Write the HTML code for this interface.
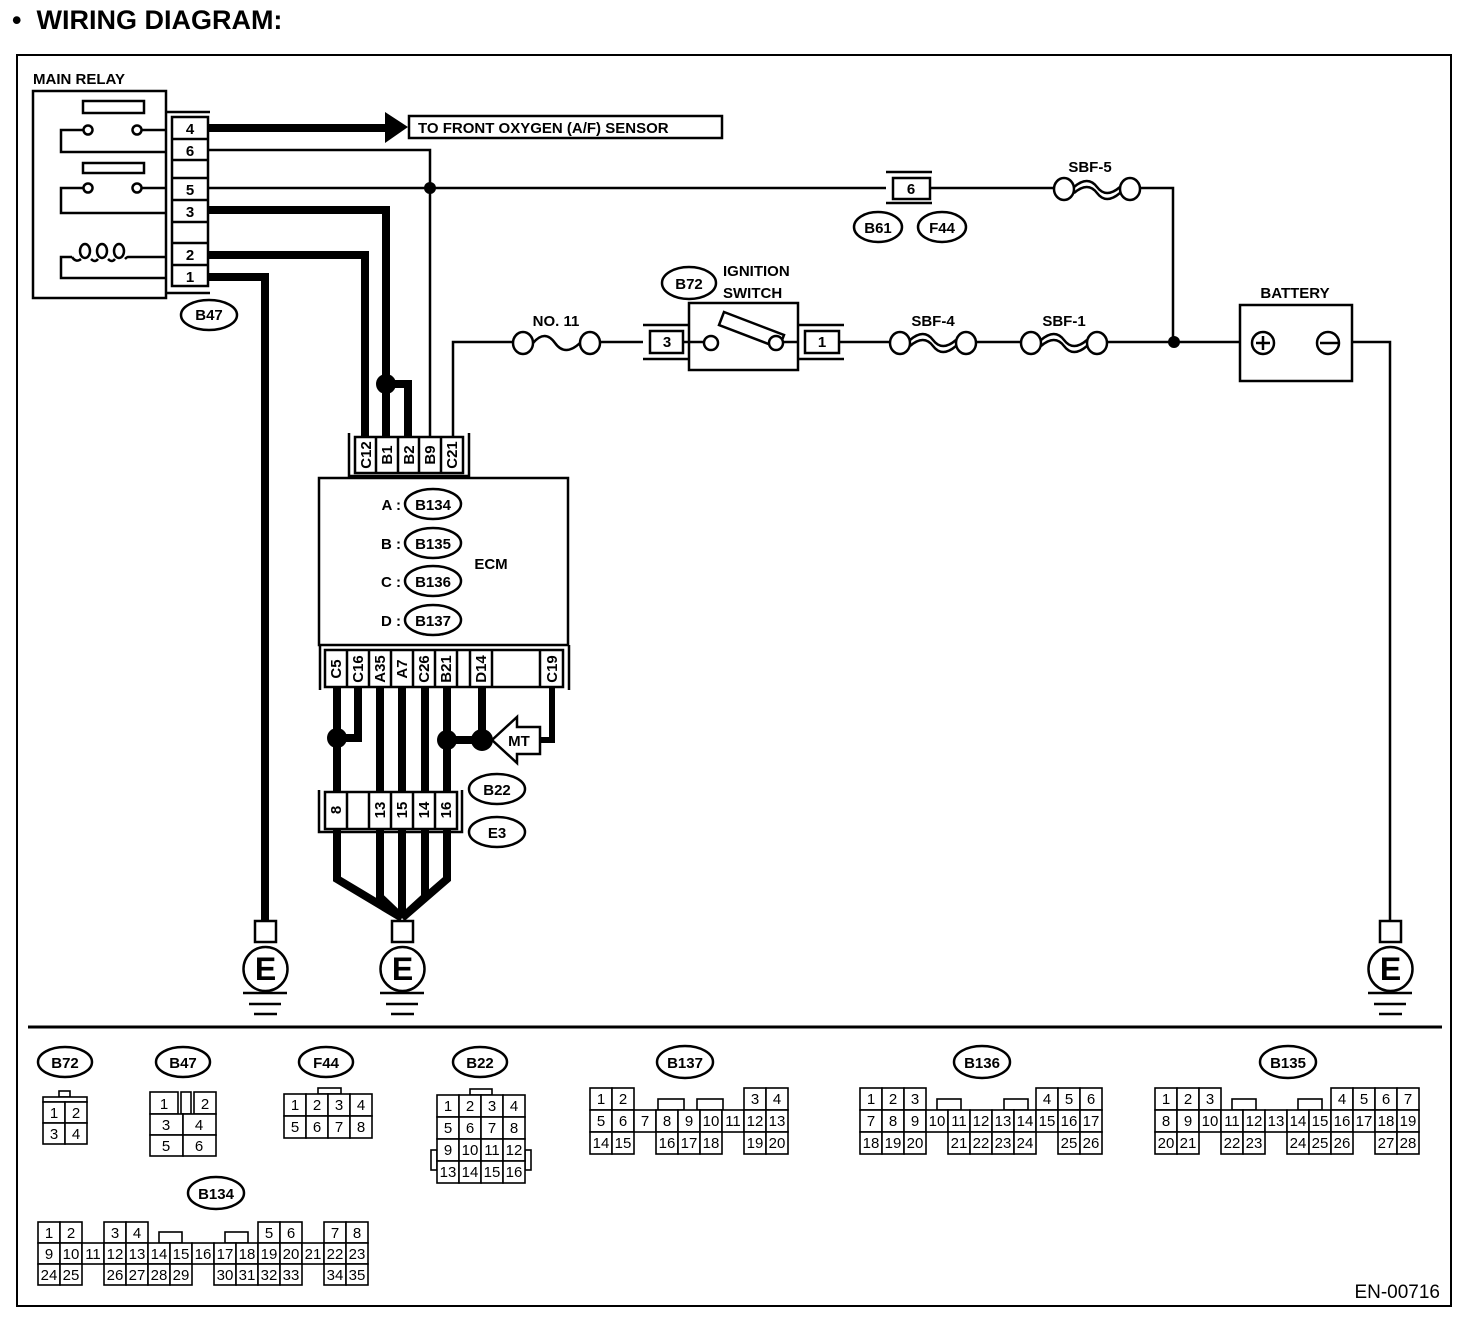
<!DOCTYPE html>
<html><head><meta charset="utf-8"><style>
html,body{margin:0;padding:0;background:#fff}
svg{display:block}
text{font-family:"Liberation Sans",sans-serif}
.b{font-weight:bold;font-size:15px}
.c rect{fill:#fff;stroke:#000;stroke-width:1.6}
.c text{font-size:15px;text-anchor:middle}
.t{fill:none;stroke:#000;stroke-width:2.5}
.k{fill:none;stroke:#000;stroke-width:8}
.bx{fill:#fff;stroke:#000;stroke-width:2.5}
.ov{fill:#fff;stroke:#000;stroke-width:2.5}
.m{text-anchor:middle}
</style></head><body>
<svg width="1472" height="1320" viewBox="0 0 1472 1320" xmlns="http://www.w3.org/2000/svg">
<text x="12" y="29" style="font-weight:bold;font-size:27px" xml:space="preserve">•  WIRING DIAGRAM:</text>
<rect x="17" y="55" width="1434" height="1251" fill="none" stroke="#000" stroke-width="2"/>

<!-- MAIN RELAY -->
<text x="33" y="84" class="b">MAIN RELAY</text>
<rect x="33" y="91" width="133" height="207" class="bx"/>
<rect x="83" y="101" width="61" height="12" class="bx"/>
<rect x="83" y="163" width="61" height="10" class="bx"/>
<path d="M166 130H141 M84 130H61V152H166" class="t"/>
<path d="M166 188H141 M84 188H61V213H166" class="t"/>
<circle cx="88" cy="130" r="4.5" class="bx"/><circle cx="137" cy="130" r="4.5" class="bx"/>
<circle cx="88" cy="188" r="4.5" class="bx"/><circle cx="137" cy="188" r="4.5" class="bx"/>
<path d="M166 257H128 M72 257H61V278H166" class="t"/>
<path d="M72 257q4 6 9 2 M91 259q4 4 7 0 M108 259q4 4 7 0 M125 259q2 -2 3 -2" class="t"/>
<ellipse cx="85" cy="251" rx="5" ry="7" class="t"/>
<ellipse cx="102" cy="251" rx="5" ry="7" class="t"/>
<ellipse cx="119" cy="251" rx="5" ry="7" class="t"/>
<path d="M166 112H210 M166 293H210" class="t"/>
<rect x="172" y="117" width="36" height="169" class="bx"/>
<path d="M172 139H208M172 160H208M172 178H208M172 200H208M172 222H208M172 243H208M172 265H208" class="t"/>
<text x="190" y="134" class="b m">4</text><text x="190" y="156" class="b m">6</text>
<text x="190" y="195" class="b m">5</text><text x="190" y="217" class="b m">3</text>
<text x="190" y="260" class="b m">2</text><text x="190" y="282" class="b m">1</text>
<ellipse cx="209" cy="315" rx="28" ry="15" class="ov"/><text x="209" y="320" class="b m">B47</text>

<!-- wires from relay -->
<path d="M208 128H388" class="k"/>
<polygon points="385,112 408,127 385,143"/>
<rect x="409" y="116" width="313" height="22" class="bx"/>
<text x="418" y="133" class="b">TO FRONT OXYGEN (A/F) SENSOR</text>
<path d="M208 150H430V437" class="t"/>
<path d="M208 188H886" class="t"/>
<circle cx="430" cy="188" r="6"/>
<path d="M208 210H386V437" class="k"/>
<path d="M208 255H365V437" class="k"/>
<path d="M208 277H265V922" class="k"/>
<circle cx="386" cy="384" r="10"/>
<path d="M386 384H408V437" class="k"/>

<!-- ECM top connector -->
<path d="M349 433V476H469V433" class="t"/>
<rect x="355" y="437" width="108" height="36" class="bx"/>
<path d="M376 437V473M398 437V473M419 437V473M441 437V473" class="t"/>
<g class="b m">
<text transform="translate(371,455) rotate(-90)" text-anchor="middle">C12</text>
<text transform="translate(392,455) rotate(-90)" text-anchor="middle">B1</text>
<text transform="translate(414,455) rotate(-90)" text-anchor="middle">B2</text>
<text transform="translate(435,455) rotate(-90)" text-anchor="middle">B9</text>
<text transform="translate(457,455) rotate(-90)" text-anchor="middle">C21</text>
</g>
<path d="M453 437V342H513" class="t"/>

<!-- ECM -->
<rect x="319" y="478" width="249" height="167" class="bx"/>
<text x="401" y="510" class="b" text-anchor="end">A :</text>
<text x="401" y="549" class="b" text-anchor="end">B :</text>
<text x="401" y="587" class="b" text-anchor="end">C :</text>
<text x="401" y="626" class="b" text-anchor="end">D :</text>
<ellipse cx="433" cy="504" rx="28" ry="15" class="ov"/><text x="433" y="510" class="b m">B134</text>
<ellipse cx="433" cy="543" rx="28" ry="15" class="ov"/><text x="433" y="549" class="b m">B135</text>
<ellipse cx="433" cy="581" rx="28" ry="15" class="ov"/><text x="433" y="587" class="b m">B136</text>
<ellipse cx="433" cy="620" rx="28" ry="15" class="ov"/><text x="433" y="626" class="b m">B137</text>
<text x="491" y="569" class="b m">ECM</text>

<!-- ECM bottom connector -->
<path d="M320 645V690 M569 645V690" class="t"/>
<rect x="325" y="650" width="238" height="37" class="bx"/>
<path d="M347 650V687M369 650V687M391 650V687M413 650V687M435 650V687M457 650V687M470 650V687M492 650V687M540 650V687" class="t"/>
<g class="b">
<text transform="translate(341,669) rotate(-90)" text-anchor="middle">C5</text>
<text transform="translate(363,669) rotate(-90)" text-anchor="middle">C16</text>
<text transform="translate(385,669) rotate(-90)" text-anchor="middle">A35</text>
<text transform="translate(407,669) rotate(-90)" text-anchor="middle">A7</text>
<text transform="translate(429,669) rotate(-90)" text-anchor="middle">C26</text>
<text transform="translate(451,669) rotate(-90)" text-anchor="middle">B21</text>
<text transform="translate(486,669) rotate(-90)" text-anchor="middle">D14</text>
<text transform="translate(557,669) rotate(-90)" text-anchor="middle">C19</text>
</g>
<path d="M337 687V879L402 918 M358 687V738H337 M380 687V897L402 918 M402 687V918 M425 687V897L402 918 M447 687V879L402 918 M482 687V740H447" class="k"/>
<circle cx="337" cy="738" r="10"/><circle cx="447" cy="740" r="10"/><circle cx="482" cy="740" r="11"/>
<path d="M552 687V740H540" class="k" style="stroke-width:6"/>
<polygon points="492,740 517,717 517,727 540,727 540,754 517,754 517,763" class="bx"/>
<text x="519" y="746" class="b m">MT</text>

<!-- E3/B22 -->
<path d="M319 790V832H462V790" class="t"/>
<rect x="325" y="792" width="132" height="37" class="bx"/>
<path d="M347 792V829M369 792V829M391 792V829M413 792V829M435 792V829" class="t"/>
<g class="b">
<text transform="translate(341,810) rotate(-90)" text-anchor="middle">8</text>
<text transform="translate(385,810) rotate(-90)" text-anchor="middle">13</text>
<text transform="translate(407,810) rotate(-90)" text-anchor="middle">15</text>
<text transform="translate(429,810) rotate(-90)" text-anchor="middle">14</text>
<text transform="translate(451,810) rotate(-90)" text-anchor="middle">16</text>
</g>
<ellipse cx="497" cy="789" rx="28" ry="15" class="ov"/><text x="497" y="795" class="b m">B22</text>
<ellipse cx="497" cy="832" rx="28" ry="15" class="ov"/><text x="497" y="838" class="b m">E3</text>

<!-- grounds -->
<g>
<rect x="255" y="921" width="21" height="21" class="bx"/>
<circle cx="265.5" cy="969" r="22" class="bx"/>
<text x="265.5" y="980" class="m" style="font-weight:bold;font-size:32px">E</text>
<path d="M243 993H287M249 1004H281M254 1014H277" class="t"/>
</g>
<g transform="translate(137,0)">
<rect x="255" y="921" width="21" height="21" class="bx"/>
<circle cx="265.5" cy="969" r="22" class="bx"/>
<text x="265.5" y="980" class="m" style="font-weight:bold;font-size:32px">E</text>
<path d="M243 993H287M249 1004H281M254 1014H277" class="t"/>
</g>
<g transform="translate(1125,0)">
<rect x="255" y="921" width="21" height="21" class="bx"/>
<circle cx="265.5" cy="969" r="22" class="bx"/>
<text x="265.5" y="980" class="m" style="font-weight:bold;font-size:32px">E</text>
<path d="M243 993H287M249 1004H281M254 1014H277" class="t"/>
</g>

<!-- right side top -->
<path d="M886 172H932M886 203H932" class="t"/>
<rect x="893" y="178" width="37" height="21" class="bx"/>
<text x="911" y="194" class="b m">6</text>
<ellipse cx="878" cy="227" rx="24" ry="15" class="ov"/><text x="878" y="233" class="b m">B61</text>
<ellipse cx="942" cy="227" rx="24" ry="15" class="ov"/><text x="942" y="233" class="b m">F44</text>
<path d="M930 188H1054 M1140 188H1173V342" class="t"/>
<text x="1090" y="172" class="b m">SBF-5</text>
<ellipse cx="1064" cy="189" rx="10" ry="11" class="bx"/><ellipse cx="1130" cy="189" rx="10" ry="11" class="bx"/>
<path d="M1074 187q14 -12 23 0 t23 0 M1074 193q14 -12 23 0 t23 0" class="t"/>

<!-- right side bottom -->
<text x="556" y="326" class="b m">NO. 11</text>
<ellipse cx="523" cy="343" rx="10" ry="11" class="bx"/><ellipse cx="590" cy="343" rx="10" ry="11" class="bx"/>
<path d="M533 343q12 -14 22 0 t25 0" class="t"/>
<path d="M600 342H643" class="t"/>
<path d="M643 325H689M643 359H689" class="t"/>
<rect x="650" y="331" width="33" height="22" class="bx"/><text x="667" y="347" class="b m">3</text>
<path d="M683 342H689" class="t"/>
<rect x="689" y="303" width="109" height="67" class="bx"/>
<path d="M689 342H704 M783 342H798" class="t"/>
<circle cx="711" cy="343" r="7" class="bx"/>
<polygon points="724,312 784,335 779,348 719,325" class="bx"/>
<circle cx="776" cy="343" r="7" class="bx"/>
<path d="M798 325H844M798 359H844" class="t"/>
<rect x="805" y="331" width="34" height="22" class="bx"/><text x="822" y="347" class="b m">1</text>
<path d="M839 342H890 M976 342H1021 M1107 342H1252 M1340 342H1390V922" class="t"/>
<ellipse cx="689" cy="283" rx="27" ry="16" class="ov"/><text x="689" y="289" class="b m">B72</text>
<text x="723" y="276" class="b">IGNITION</text>
<text x="723" y="298" class="b">SWITCH</text>
<text x="933" y="326" class="b m">SBF-4</text>
<ellipse cx="900" cy="343" rx="10" ry="11" class="bx"/><ellipse cx="966" cy="343" rx="10" ry="11" class="bx"/>
<path d="M910 340q14 -12 23 0 t23 0 M910 346q14 -12 23 0 t23 0" class="t"/>
<text x="1064" y="326" class="b m">SBF-1</text>
<ellipse cx="1031" cy="343" rx="10" ry="11" class="bx"/><ellipse cx="1097" cy="343" rx="10" ry="11" class="bx"/>
<path d="M1041 340q14 -12 23 0 t23 0 M1041 346q14 -12 23 0 t23 0" class="t"/>
<circle cx="1174" cy="342" r="6"/>
<text x="1295" y="298" class="b m">BATTERY</text>
<rect x="1240" y="305" width="112" height="76" class="bx"/>
<circle cx="1263" cy="343" r="11" class="bx"/><path d="M1256 343H1270M1263 336V350" class="t"/>
<circle cx="1328" cy="343" r="11" class="bx"/><path d="M1320 343H1340" class="t"/>

<path d="M28 1027H1442" stroke="#000" stroke-width="3"/>

<!-- connector legends -->
<g class="b">
<ellipse cx="65" cy="1062" rx="27" ry="15" class="ov"/><text x="65" y="1068" class="m">B72</text>
<ellipse cx="183" cy="1062" rx="27" ry="15" class="ov"/><text x="183" y="1068" class="m">B47</text>
<ellipse cx="326" cy="1062" rx="27" ry="15" class="ov"/><text x="326" y="1068" class="m">F44</text>
<ellipse cx="480" cy="1062" rx="27" ry="15" class="ov"/><text x="480" y="1068" class="m">B22</text>
<ellipse cx="685" cy="1062" rx="28" ry="16" class="ov"/><text x="685" y="1068" class="m">B137</text>
<ellipse cx="982" cy="1062" rx="28" ry="16" class="ov"/><text x="982" y="1068" class="m">B136</text>
<ellipse cx="1288" cy="1062" rx="28" ry="16" class="ov"/><text x="1288" y="1068" class="m">B135</text>
<ellipse cx="216" cy="1193" rx="28" ry="16" class="ov"/><text x="216" y="1199" class="m">B134</text>
</g>

<g class="c">
<!-- B72 -->
<rect x="59" y="1091" width="11" height="6"/>
<rect x="43" y="1097" width="44" height="5"/>
<rect x="43" y="1102" width="22" height="21"/><text x="54" y="1118">1</text>
<rect x="65" y="1102" width="22" height="21"/><text x="76" y="1118">2</text>
<rect x="43" y="1123" width="22" height="21"/><text x="54" y="1139">3</text>
<rect x="65" y="1123" width="22" height="21"/><text x="76" y="1139">4</text>
<!-- B47 -->
<rect x="150" y="1092" width="28" height="22"/><text x="164" y="1109">1</text>
<rect x="181" y="1092" width="10" height="22"/>
<rect x="194" y="1092" width="22" height="22"/><text x="205" y="1109">2</text>
<rect x="150" y="1114" width="33" height="21"/><text x="166" y="1130">3</text>
<rect x="183" y="1114" width="33" height="21"/><text x="199" y="1130">4</text>
<rect x="150" y="1135" width="33" height="21"/><text x="166" y="1151">5</text>
<rect x="183" y="1135" width="33" height="21"/><text x="199" y="1151">6</text>
<!-- F44 -->
<rect x="318" y="1088" width="23" height="6"/>
<rect x="284" y="1094" width="22" height="22"/><text x="295" y="1110">1</text>
<rect x="306" y="1094" width="22" height="22"/><text x="317" y="1110">2</text>
<rect x="328" y="1094" width="22" height="22"/><text x="339" y="1110">3</text>
<rect x="350" y="1094" width="22" height="22"/><text x="361" y="1110">4</text>
<rect x="284" y="1116" width="22" height="22"/><text x="295" y="1132">5</text>
<rect x="306" y="1116" width="22" height="22"/><text x="317" y="1132">6</text>
<rect x="328" y="1116" width="22" height="22"/><text x="339" y="1132">7</text>
<rect x="350" y="1116" width="22" height="22"/><text x="361" y="1132">8</text>
<!-- B22 -->
<rect x="470" y="1089" width="22" height="6"/>
<rect x="431" y="1150" width="6" height="20"/><rect x="525" y="1150" width="6" height="20"/>
<rect x="437" y="1095" width="22" height="22"/><text x="448" y="1111">1</text>
<rect x="459" y="1095" width="22" height="22"/><text x="470" y="1111">2</text>
<rect x="481" y="1095" width="22" height="22"/><text x="492" y="1111">3</text>
<rect x="503" y="1095" width="22" height="22"/><text x="514" y="1111">4</text>
<rect x="437" y="1117" width="22" height="22"/><text x="448" y="1133">5</text>
<rect x="459" y="1117" width="22" height="22"/><text x="470" y="1133">6</text>
<rect x="481" y="1117" width="22" height="22"/><text x="492" y="1133">7</text>
<rect x="503" y="1117" width="22" height="22"/><text x="514" y="1133">8</text>
<rect x="437" y="1139" width="22" height="22"/><text x="448" y="1155">9</text>
<rect x="459" y="1139" width="22" height="22"/><text x="470" y="1155">10</text>
<rect x="481" y="1139" width="22" height="22"/><text x="492" y="1155">11</text>
<rect x="503" y="1139" width="22" height="22"/><text x="514" y="1155">12</text>
<rect x="437" y="1161" width="22" height="22"/><text x="448" y="1177">13</text>
<rect x="459" y="1161" width="22" height="22"/><text x="470" y="1177">14</text>
<rect x="481" y="1161" width="22" height="22"/><text x="492" y="1177">15</text>
<rect x="503" y="1161" width="22" height="22"/><text x="514" y="1177">16</text>

<!-- B134 -->
<rect x="159" y="1232" width="23" height="11"/><rect x="225" y="1232" width="23" height="11"/>
<rect x="38" y="1222" width="22" height="21"/><text x="49" y="1238">1</text>
<rect x="60" y="1222" width="22" height="21"/><text x="71" y="1238">2</text>
<rect x="104" y="1222" width="22" height="21"/><text x="115" y="1238">3</text>
<rect x="126" y="1222" width="22" height="21"/><text x="137" y="1238">4</text>
<rect x="258" y="1222" width="22" height="21"/><text x="269" y="1238">5</text>
<rect x="280" y="1222" width="22" height="21"/><text x="291" y="1238">6</text>
<rect x="324" y="1222" width="22" height="21"/><text x="335" y="1238">7</text>
<rect x="346" y="1222" width="22" height="21"/><text x="357" y="1238">8</text>
<rect x="38" y="1243" width="22" height="21"/><text x="49" y="1259">9</text>
<rect x="60" y="1243" width="22" height="21"/><text x="71" y="1259">10</text>
<rect x="82" y="1243" width="22" height="21"/><text x="93" y="1259">11</text>
<rect x="104" y="1243" width="22" height="21"/><text x="115" y="1259">12</text>
<rect x="126" y="1243" width="22" height="21"/><text x="137" y="1259">13</text>
<rect x="148" y="1243" width="22" height="21"/><text x="159" y="1259">14</text>
<rect x="170" y="1243" width="22" height="21"/><text x="181" y="1259">15</text>
<rect x="192" y="1243" width="22" height="21"/><text x="203" y="1259">16</text>
<rect x="214" y="1243" width="22" height="21"/><text x="225" y="1259">17</text>
<rect x="236" y="1243" width="22" height="21"/><text x="247" y="1259">18</text>
<rect x="258" y="1243" width="22" height="21"/><text x="269" y="1259">19</text>
<rect x="280" y="1243" width="22" height="21"/><text x="291" y="1259">20</text>
<rect x="302" y="1243" width="22" height="21"/><text x="313" y="1259">21</text>
<rect x="324" y="1243" width="22" height="21"/><text x="335" y="1259">22</text>
<rect x="346" y="1243" width="22" height="21"/><text x="357" y="1259">23</text>
<rect x="38" y="1264" width="22" height="21"/><text x="49" y="1280">24</text>
<rect x="60" y="1264" width="22" height="21"/><text x="71" y="1280">25</text>
<rect x="104" y="1264" width="22" height="21"/><text x="115" y="1280">26</text>
<rect x="126" y="1264" width="22" height="21"/><text x="137" y="1280">27</text>
<rect x="148" y="1264" width="22" height="21"/><text x="159" y="1280">28</text>
<rect x="170" y="1264" width="22" height="21"/><text x="181" y="1280">29</text>
<rect x="214" y="1264" width="22" height="21"/><text x="225" y="1280">30</text>
<rect x="236" y="1264" width="22" height="21"/><text x="247" y="1280">31</text>
<rect x="258" y="1264" width="22" height="21"/><text x="269" y="1280">32</text>
<rect x="280" y="1264" width="22" height="21"/><text x="291" y="1280">33</text>
<rect x="324" y="1264" width="22" height="21"/><text x="335" y="1280">34</text>
<rect x="346" y="1264" width="22" height="21"/><text x="357" y="1280">35</text>

<!-- B137 -->
<rect x="658" y="1099" width="26" height="11"/><rect x="697" y="1099" width="26" height="11"/>
<rect x="590" y="1088" width="22" height="22"/><text x="601" y="1104">1</text>
<rect x="612" y="1088" width="22" height="22"/><text x="623" y="1104">2</text>
<rect x="744" y="1088" width="22" height="22"/><text x="755" y="1104">3</text>
<rect x="766" y="1088" width="22" height="22"/><text x="777" y="1104">4</text>
<rect x="590" y="1110" width="22" height="22"/><text x="601" y="1126">5</text>
<rect x="612" y="1110" width="22" height="22"/><text x="623" y="1126">6</text>
<rect x="634" y="1110" width="22" height="22"/><text x="645" y="1126">7</text>
<rect x="656" y="1110" width="22" height="22"/><text x="667" y="1126">8</text>
<rect x="678" y="1110" width="22" height="22"/><text x="689" y="1126">9</text>
<rect x="700" y="1110" width="22" height="22"/><text x="711" y="1126">10</text>
<rect x="722" y="1110" width="22" height="22"/><text x="733" y="1126">11</text>
<rect x="744" y="1110" width="22" height="22"/><text x="755" y="1126">12</text>
<rect x="766" y="1110" width="22" height="22"/><text x="777" y="1126">13</text>
<rect x="590" y="1132" width="22" height="22"/><text x="601" y="1148">14</text>
<rect x="612" y="1132" width="22" height="22"/><text x="623" y="1148">15</text>
<rect x="656" y="1132" width="22" height="22"/><text x="667" y="1148">16</text>
<rect x="678" y="1132" width="22" height="22"/><text x="689" y="1148">17</text>
<rect x="700" y="1132" width="22" height="22"/><text x="711" y="1148">18</text>
<rect x="744" y="1132" width="22" height="22"/><text x="755" y="1148">19</text>
<rect x="766" y="1132" width="22" height="22"/><text x="777" y="1148">20</text>

<!-- B136 -->
<rect x="937" y="1099" width="24" height="11"/><rect x="1004" y="1099" width="24" height="11"/>
<rect x="860" y="1088" width="22" height="22"/><text x="871" y="1104">1</text>
<rect x="882" y="1088" width="22" height="22"/><text x="893" y="1104">2</text>
<rect x="904" y="1088" width="22" height="22"/><text x="915" y="1104">3</text>
<rect x="1036" y="1088" width="22" height="22"/><text x="1047" y="1104">4</text>
<rect x="1058" y="1088" width="22" height="22"/><text x="1069" y="1104">5</text>
<rect x="1080" y="1088" width="22" height="22"/><text x="1091" y="1104">6</text>
<rect x="860" y="1110" width="22" height="22"/><text x="871" y="1126">7</text>
<rect x="882" y="1110" width="22" height="22"/><text x="893" y="1126">8</text>
<rect x="904" y="1110" width="22" height="22"/><text x="915" y="1126">9</text>
<rect x="926" y="1110" width="22" height="22"/><text x="937" y="1126">10</text>
<rect x="948" y="1110" width="22" height="22"/><text x="959" y="1126">11</text>
<rect x="970" y="1110" width="22" height="22"/><text x="981" y="1126">12</text>
<rect x="992" y="1110" width="22" height="22"/><text x="1003" y="1126">13</text>
<rect x="1014" y="1110" width="22" height="22"/><text x="1025" y="1126">14</text>
<rect x="1036" y="1110" width="22" height="22"/><text x="1047" y="1126">15</text>
<rect x="1058" y="1110" width="22" height="22"/><text x="1069" y="1126">16</text>
<rect x="1080" y="1110" width="22" height="22"/><text x="1091" y="1126">17</text>
<rect x="860" y="1132" width="22" height="22"/><text x="871" y="1148">18</text>
<rect x="882" y="1132" width="22" height="22"/><text x="893" y="1148">19</text>
<rect x="904" y="1132" width="22" height="22"/><text x="915" y="1148">20</text>
<rect x="948" y="1132" width="22" height="22"/><text x="959" y="1148">21</text>
<rect x="970" y="1132" width="22" height="22"/><text x="981" y="1148">22</text>
<rect x="992" y="1132" width="22" height="22"/><text x="1003" y="1148">23</text>
<rect x="1014" y="1132" width="22" height="22"/><text x="1025" y="1148">24</text>
<rect x="1058" y="1132" width="22" height="22"/><text x="1069" y="1148">25</text>
<rect x="1080" y="1132" width="22" height="22"/><text x="1091" y="1148">26</text>

<!-- B135 -->
<rect x="1232" y="1099" width="24" height="11"/><rect x="1298" y="1099" width="24" height="11"/>
<rect x="1155" y="1088" width="22" height="22"/><text x="1166" y="1104">1</text>
<rect x="1177" y="1088" width="22" height="22"/><text x="1188" y="1104">2</text>
<rect x="1199" y="1088" width="22" height="22"/><text x="1210" y="1104">3</text>
<rect x="1331" y="1088" width="22" height="22"/><text x="1342" y="1104">4</text>
<rect x="1353" y="1088" width="22" height="22"/><text x="1364" y="1104">5</text>
<rect x="1375" y="1088" width="22" height="22"/><text x="1386" y="1104">6</text>
<rect x="1397" y="1088" width="22" height="22"/><text x="1408" y="1104">7</text>
<rect x="1155" y="1110" width="22" height="22"/><text x="1166" y="1126">8</text>
<rect x="1177" y="1110" width="22" height="22"/><text x="1188" y="1126">9</text>
<rect x="1199" y="1110" width="22" height="22"/><text x="1210" y="1126">10</text>
<rect x="1221" y="1110" width="22" height="22"/><text x="1232" y="1126">11</text>
<rect x="1243" y="1110" width="22" height="22"/><text x="1254" y="1126">12</text>
<rect x="1265" y="1110" width="22" height="22"/><text x="1276" y="1126">13</text>
<rect x="1287" y="1110" width="22" height="22"/><text x="1298" y="1126">14</text>
<rect x="1309" y="1110" width="22" height="22"/><text x="1320" y="1126">15</text>
<rect x="1331" y="1110" width="22" height="22"/><text x="1342" y="1126">16</text>
<rect x="1353" y="1110" width="22" height="22"/><text x="1364" y="1126">17</text>
<rect x="1375" y="1110" width="22" height="22"/><text x="1386" y="1126">18</text>
<rect x="1397" y="1110" width="22" height="22"/><text x="1408" y="1126">19</text>
<rect x="1155" y="1132" width="22" height="22"/><text x="1166" y="1148">20</text>
<rect x="1177" y="1132" width="22" height="22"/><text x="1188" y="1148">21</text>
<rect x="1221" y="1132" width="22" height="22"/><text x="1232" y="1148">22</text>
<rect x="1243" y="1132" width="22" height="22"/><text x="1254" y="1148">23</text>
<rect x="1287" y="1132" width="22" height="22"/><text x="1298" y="1148">24</text>
<rect x="1309" y="1132" width="22" height="22"/><text x="1320" y="1148">25</text>
<rect x="1331" y="1132" width="22" height="22"/><text x="1342" y="1148">26</text>
<rect x="1375" y="1132" width="22" height="22"/><text x="1386" y="1148">27</text>
<rect x="1397" y="1132" width="22" height="22"/><text x="1408" y="1148">28</text>
</g>

<text x="1440" y="1298" text-anchor="end" style="font-size:19px">EN-00716</text>
</svg>
</body></html>
